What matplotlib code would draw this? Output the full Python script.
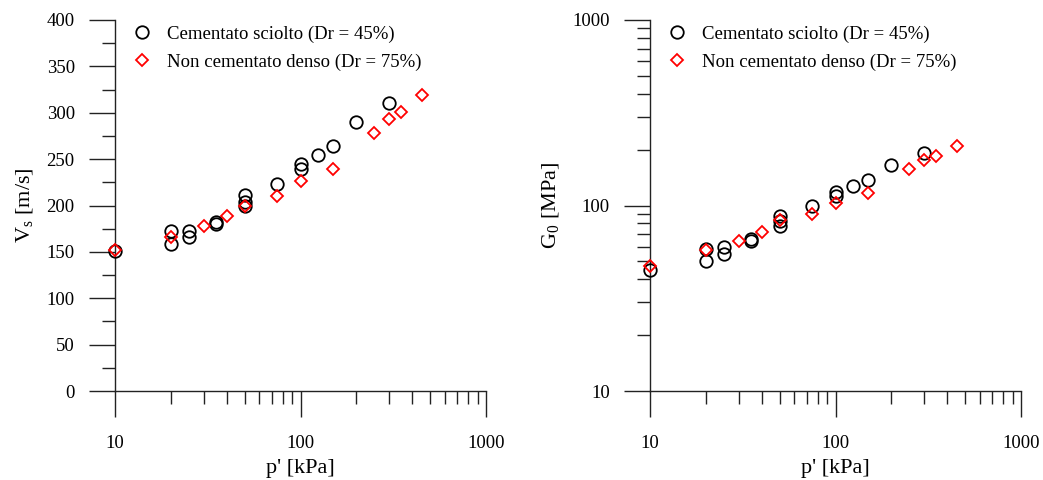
import numpy as np
import matplotlib
matplotlib.use("Agg")
import matplotlib.pyplot as plt
from matplotlib.ticker import MultipleLocator, LogLocator, NullFormatter, FixedLocator

plt.rcParams['font.family'] = ['Liberation Serif', 'DejaVu Serif']
plt.rcParams['mathtext.fontset'] = 'custom'
plt.rcParams['mathtext.rm'] = 'Liberation Serif'
plt.rcParams['mathtext.it'] = 'Liberation Serif:italic'

# Cementato sciolto (Dr = 45%)
p_cem = [10, 20, 20, 25, 25, 35, 35, 50, 50, 50, 75, 100, 100, 125, 150, 200, 300]
vs_cem = [151, 172, 159, 173, 166, 182.5, 180, 211, 204, 199, 223, 245, 239, 254, 264, 290, 311]
g0_cem = [45, 58.4, 50.5, 59.6, 54.8, 66, 64, 87.5, 82, 78, 99, 118, 112, 128, 138, 166, 193]

# Non cementato denso (Dr = 75%)
p_non = [10, 20, 30, 40, 50, 75, 100, 150, 250, 300, 350, 450]
vs_non = [152.5, 166.5, 178, 189, 199.5, 210.5, 226.5, 239, 278, 293, 300.5, 319]
g0_non = [47, 57.6, 64, 72.3, 83.7, 90.2, 103.5, 117, 158, 175, 184, 209]

lab_cem = "Cementato sciolto (Dr = 45%)"
lab_non = "Non cementato denso (Dr = 75%)"

fig = plt.figure(figsize=(10.43, 4.80), dpi=100)
ax1 = fig.add_axes([115 / 1043, 89 / 480, 371 / 1043, 371 / 480])
ax2 = fig.add_axes([650 / 1043, 89 / 480, 371 / 1043, 371 / 480])


def style(ax):
    for s in ['top', 'right']:
        ax.spines[s].set_visible(False)
    for s in ['left', 'bottom']:
        ax.spines[s].set_color('#222222')
        ax.spines[s].set_linewidth(1.0)
    ax.tick_params(which='major', direction='out', length=19, width=1.0,
                   color='#222222', labelsize=13.5, pad=10)
    ax.tick_params(which='minor', direction='out', length=9.5, width=1.0,
                   color='#222222')
    ax.tick_params(axis='x', which='major', pad=13)
    ax.set_xscale('log')
    ax.set_xlim(10, 1000)
    ax.xaxis.set_major_locator(FixedLocator([10, 100, 1000]))
    ax.xaxis.set_major_formatter(matplotlib.ticker.FixedFormatter(['10', '100', '1000']))
    ax.xaxis.set_minor_locator(LogLocator(base=10, subs=np.arange(2, 10)))
    ax.xaxis.set_minor_formatter(NullFormatter())
    ax.set_xlabel("p' [kPa]", fontsize=16, labelpad=5)


for ax, yc, yn in [(ax1, vs_cem, vs_non), (ax2, g0_cem, g0_non)]:
    ax.plot(p_cem, yc, 'o', ms=9, mfc='none', mec='black', mew=1.3,
            label=lab_cem, clip_on=False, zorder=3)
    ax.plot(p_non, yn, 'D', ms=6.5, mfc='none', mec='red', mew=1.3,
            label=lab_non, clip_on=False, zorder=3)
    style(ax)
    ax.legend(loc='upper left', bbox_to_anchor=(0.013, 1.02), frameon=False,
              fontsize=13.5, handlelength=1.0, handletextpad=0.8,
              labelspacing=0.55, borderaxespad=0.3)

ax1.set_ylim(0, 400)
ax1.yaxis.set_major_locator(MultipleLocator(50))
ax1.yaxis.set_minor_locator(MultipleLocator(25))
ax1.set_ylabel(r"V$_\mathrm{s}$ [m/s]", fontsize=16, labelpad=8)

ax2.set_yscale('log')
ax2.set_ylim(10, 1000)
ax2.yaxis.set_major_locator(FixedLocator([10, 100, 1000]))
ax2.yaxis.set_major_formatter(matplotlib.ticker.FixedFormatter(['10', '100', '1000']))
ax2.yaxis.set_minor_locator(LogLocator(base=10, subs=np.arange(2, 10)))
ax2.yaxis.set_minor_formatter(NullFormatter())
ax2.set_ylabel(r"G$_\mathrm{0}$ [MPa]", fontsize=16, labelpad=8)

fig.savefig("out.png", dpi=100)
